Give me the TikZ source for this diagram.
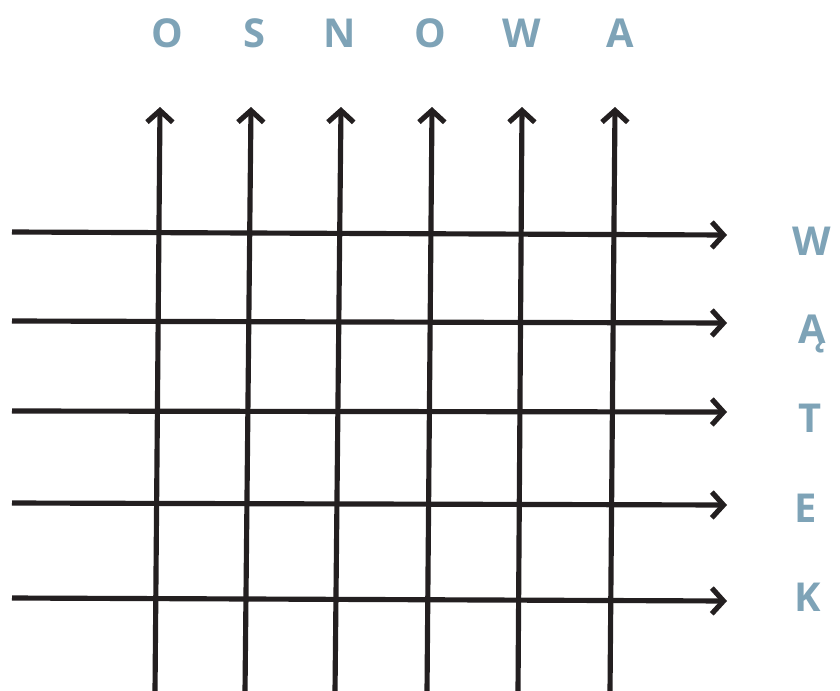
\documentclass[tikz,border=0pt]{standalone}
\usepackage{fontspec}
\setmainfont{Open Sans}
\usetikzlibrary{arrows.meta}
\definecolor{ink}{HTML}{231F20}
\definecolor{letterCol}{HTML}{7EA3B7}

\begin{document}
\begin{tikzpicture}[x=0.03cm, y=-0.03cm,
    thread/.style={ink, line width=4.4pt, -{Straight Barb[length=10pt, width=22pt, line width=4.4pt]}},
    letter/.style={letterCol, font=\fontsize{34}{34}\selectfont\bfseries, anchor=base, inner sep=0pt}]
    \useasboundingbox (0,0) rectangle (840,690);

    % Warp (osnowa): vertical threads, top x / bottom x
    \foreach \i/\xt/\xb/\ch/\lx in {1/160/155/O/167, 2/251/245/S/254, 3/341/335/N/340,
                                    4/432/427/O/430, 5/522/518/W/522, 6/615/610/A/620} {
        \coordinate (b\i) at (\xb, 692);
        \coordinate (t\i) at (\xt, 107);
        \draw[thread] (b\i) -- (t\i);
        \node[letter] (o\i) at (\lx, 47) {\ch};
    }

    % Weft (wątek): horizontal threads, left y / right y
    \foreach \j/\yl/\yr/\ch/\lx/\ly in {1/232/235/W/812/255, 2/321/323/Ą/812/343, 3/411/412/T/810/432,
                                        4/503/505/E/806/522, 5/598/601/K/808/611} {
        \coordinate (l\j) at (12, \yl);
        \coordinate (r\j) at (727, \yr);
        \draw[thread] (l\j) -- (r\j);
        \node[letter] (w\j) at (\lx, \ly) {\ch};
    }
\end{tikzpicture}
\end{document}
